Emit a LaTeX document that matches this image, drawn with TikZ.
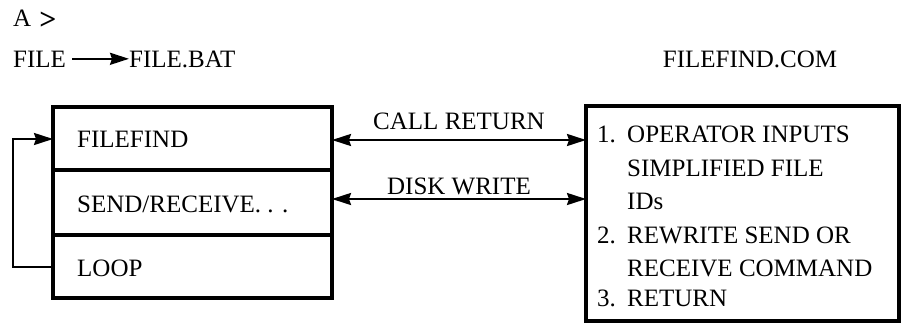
\documentclass[tikz,border=0pt]{standalone}
\usepackage{fontspec}
\setmainfont{Liberation Serif}
\usetikzlibrary{arrows.meta}
\begin{document}
\begin{tikzpicture}[x=1pt,y=-1pt,
  every node/.style={inner sep=0pt,font=\fontsize{25}{30}\selectfont},
  lbl/.style={anchor=base west},
  boxline/.style={line width=3.6pt},
  conn/.style={line width=2.2pt},
  tip/.style={-{Stealth[length=19pt,width=12pt,inset=2pt]}},
  both/.style={{Stealth[length=19pt,width=12pt,inset=2pt]}-{Stealth[length=19pt,width=12pt,inset=2pt]}}]
\useasboundingbox (0,0) rectangle (901,324);

% prompt and batch file line
\node[lbl] (prompt) at (13,26) {A\hspace{8pt}\raisebox{-3.5pt}{\fontsize{30}{30}\selectfont\bfseries >}};
\node[lbl] (file) at (13,67) {FILE};
\node[lbl] (bat) at (129,67) {FILE.BAT};
\draw[conn,tip] (file.east) ++(6pt,0pt) coordinate (fa) -- (bat.west|-fa);
\node[anchor=base] (com) at (750,67) {FILEFIND.COM};

% left program block with three rows
\coordinate (ltl) at (53,107);
\coordinate (lbr) at (332,298);
\draw[boxline] (ltl) rectangle (lbr);
\draw[boxline] (53,170) -- (332,170);
\draw[boxline] (53,235) -- (332,235);
\node[lbl] (ff) at (77,147) {FILEFIND};
\node[lbl] (sr) at (77,212) {SEND/RECEIVE. . .};
\node[lbl] (lp) at (77,276) {LOOP};
\coordinate (loopout) at (53,267);
\coordinate (loopin) at (53,139);
\draw[conn,tip] (loopout) -- (13,267) -- (13,139) -- (loopin);

% right program block
\coordinate (rtl) at (586,106);
\coordinate (rbr) at (899,321);
\draw[boxline] (rtl) rectangle (rbr);
\node[lbl] (n1) at (597,142) {1.};
\node[lbl] (t1) at (627,142) {OPERATOR INPUTS};
\node[lbl] (t1b) at (627,176) {SIMPLIFIED FILE};
\node[lbl] (t1c) at (627,209) {IDs};
\node[lbl] (n2) at (597,243) {2.};
\node[lbl] (t2) at (627,243) {REWRITE SEND OR};
\node[lbl] (t2b) at (627,276) {RECEIVE COMMAND};
\node[lbl] (n3) at (597,306) {3.};
\node[lbl] (t3) at (627,306) {RETURN};

% links between the two blocks
\coordinate (a1l) at (332,140);
\coordinate (a1r) at (586,140);
\coordinate (a2l) at (332,199);
\coordinate (a2r) at (586,199);
\draw[conn,both] (a1l) -- (a1r);
\draw[conn,both] (a2l) -- (a2r);
\node[anchor=base] (cr) at (459,129) {CALL RETURN};
\node[anchor=base] (dw) at (459,194) {DISK WRITE};
\end{tikzpicture}
\end{document}
